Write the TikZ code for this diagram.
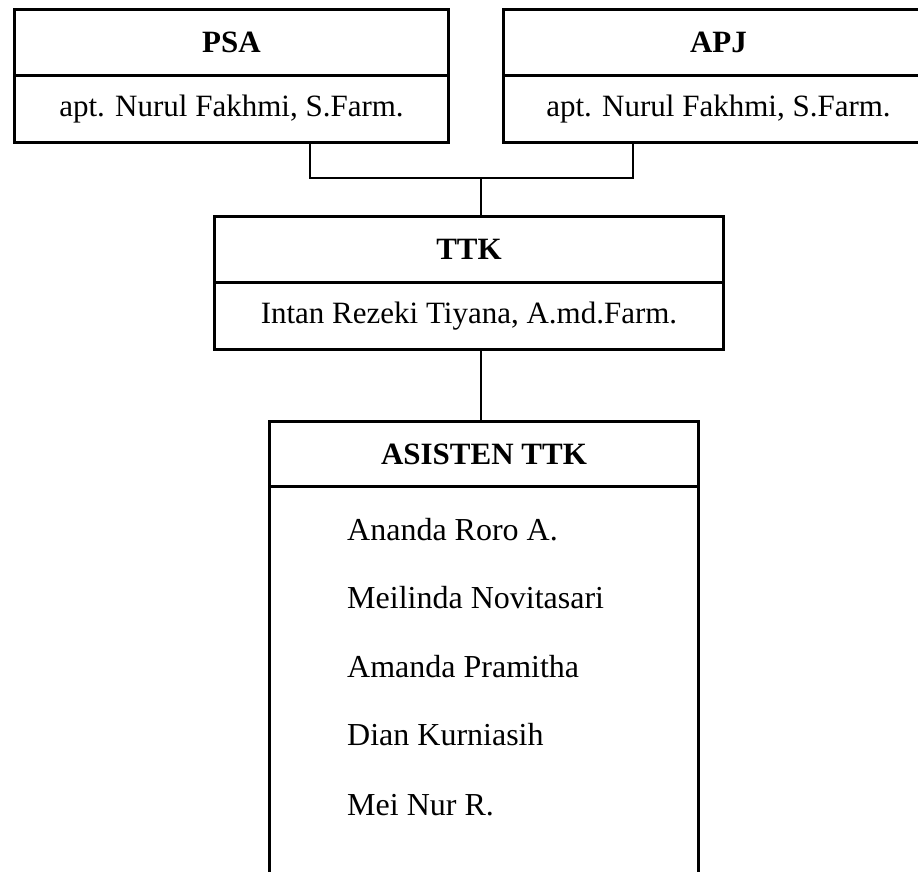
\documentclass[tikz,border=0pt]{standalone}
\usepackage{fontspec}
\setmainfont{Liberation Serif}
\begin{document}
\begin{tikzpicture}[x=1pt,y=1pt,
  orgbox/.style={draw=black,line width=3pt,rectangle,inner sep=0pt,anchor=north west,
    font=\fontsize{31}{36}\selectfont},
  orghead/.style={orgbox,font=\fontsize{31}{36}\selectfont\bfseries},
  conn/.style={draw=black,line width=1.6pt},
  member/.style={anchor=base west,inner sep=0pt,font=\fontsize{32}{38}\selectfont}]
\useasboundingbox (0,0) rectangle (918,-872);
\clip (0,0) rectangle (918,-872);
% PSA
\node[orghead,minimum width=434pt,minimum height=66pt] (psah) at (13,-8) {PSA};
\node[orgbox,minimum width=434pt,minimum height=67pt] (psab) at (13,-74) {apt. Nurul Fakhmi, S.Farm.};
% APJ
\node[orghead,minimum width=430pt,minimum height=66pt] (apjh) at (502,-8) {APJ};
\node[orgbox,minimum width=430pt,minimum height=67pt] (apjb) at (502,-74) {apt. Nurul Fakhmi, S.Farm.};
% TTK
\node[orghead,minimum width=509pt,minimum height=66pt] (ttkh) at (213,-215) {TTK};
\node[orgbox,minimum width=509pt,minimum height=67pt] (ttkb) at (213,-281) {Intan Rezeki Tiyana, A.md.Farm.};
% ASISTEN
\node[orghead,minimum width=429pt,minimum height=65pt] (ash) at (268,-420) {ASISTEN TTK};
\node[orgbox,minimum width=429pt,minimum height=420pt] (asb) at (268,-485) {};
\node[member] (n1) at (347,-540) {Ananda Roro A.};
\node[member] (n2) at (347,-608) {Meilinda Novitasari};
\node[member] (n3) at (347,-677) {Amanda Pramitha};
\node[member] (n4) at (347,-745) {Dian Kurniasih};
\node[member] (n5) at (347,-815) {Mei Nur R.};
% connectors
\coordinate (pl) at (310,-178);
\coordinate (pr) at (633,-178);
\coordinate (j) at (481,-178);
\draw[conn] (psab.south -| pl) -- (pl) -- (pr) -- (apjb.south -| pr);
\draw[conn] (j) -- (ttkh.north -| j);
\draw[conn] (ttkb.south -| j) -- (ash.north -| j);
\end{tikzpicture}
\end{document}
